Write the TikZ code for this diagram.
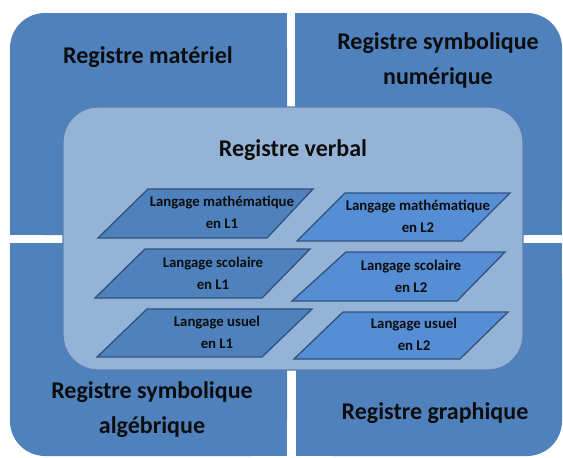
\documentclass[tikz,border=0pt]{standalone}
\usepackage{fontspec}
\setmainfont{Carlito}
\definecolor{quad}{HTML}{4F81BD}
\definecolor{verb}{HTML}{95B3D7}
\definecolor{verbline}{HTML}{5B7FB0}
\definecolor{parL}{HTML}{4F81BD}
\definecolor{parR}{HTML}{558ED5}
\definecolor{parline}{HTML}{2F527E}
\definecolor{txt}{HTML}{0D0D0D}
\tikzset{
  big/.style={font=\fontsize{24}{35}\selectfont\bfseries, text=txt, align=center, inner sep=0pt},
  small/.style={font=\fontsize{14.8}{22}\selectfont\bfseries, text=txt, align=center, inner sep=0pt},
  parleft/.style={fill=parL, draw=parline, line width=1.3pt, line join=miter},
  parright/.style={fill=parR, draw=parline, line width=1.3pt, line join=miter},
}
\begin{document}
\begin{tikzpicture}[x=1pt,y=-1pt]
\useasboundingbox (0,0) rectangle (563,458);
% quadrants
\fill[quad, rounded corners=35pt] (10,13) rectangle (287,235);
\fill[quad] (80,13) rectangle (287,235);
\fill[quad] (10,80) rectangle (287,235);
\fill[quad, rounded corners=35pt] (295,13) rectangle (562,235);
\fill[quad] (295,13) rectangle (480,235);
\fill[quad] (295,80) rectangle (562,235);
\fill[quad, rounded corners=35pt] (10,243) rectangle (287,456);
\fill[quad] (80,243) rectangle (287,456);
\fill[quad] (10,243) rectangle (287,380);
\fill[quad, rounded corners=35pt] (296,243) rectangle (562,456);
\fill[quad] (296,243) rectangle (480,456);
\fill[quad] (296,243) rectangle (562,380);
% central box
\draw[fill=verb, draw=verbline, line width=1.3pt, rounded corners=35pt] (63,107) rectangle (523,370);
% parallelograms
\draw[parleft] (148,189) -- (313,189) -- (267,238) -- (98,238) -- cycle;
\draw[parleft] (145,249) -- (310,249) -- (262,298) -- (95,298) -- cycle;
\draw[parleft] (147,309) -- (312,309) -- (262,357) -- (97,357) -- cycle;
\draw[parright] (345,193) -- (510,193) -- (462,241) -- (297,241) -- cycle;
\draw[parright] (346,252) -- (505,252) -- (457,301) -- (292,301) -- cycle;
\draw[parright] (343,312) -- (508,312) -- (460,359) -- (294,359) -- cycle;
% titles
\node[big] (mat) at (148,57) {Registre matériel};
\node[big] (num) at (438,60) {Registre symbolique\\numérique};
\node[big] (alg) at (152,410) {Registre symbolique\\algébrique};
\node[big] (gra) at (435,413) {Registre graphique};
\node[big] (ver) at (293,150) {Registre verbal};
% small labels
\node[small] (m1) at (222,212) {Langage mathématique\\en L1};
\node[small] (s1) at (213,273) {Langage scolaire\\en L1};
\node[small] (u1) at (217,332) {Langage usuel\\en L1};
\node[small] (m2) at (418,216) {Langage mathématique\\en L2};
\node[small] (s2) at (411,276) {Langage scolaire\\en L2};
\node[small] (u2) at (414,334) {Langage usuel\\en L2};
\end{tikzpicture}
\end{document}
